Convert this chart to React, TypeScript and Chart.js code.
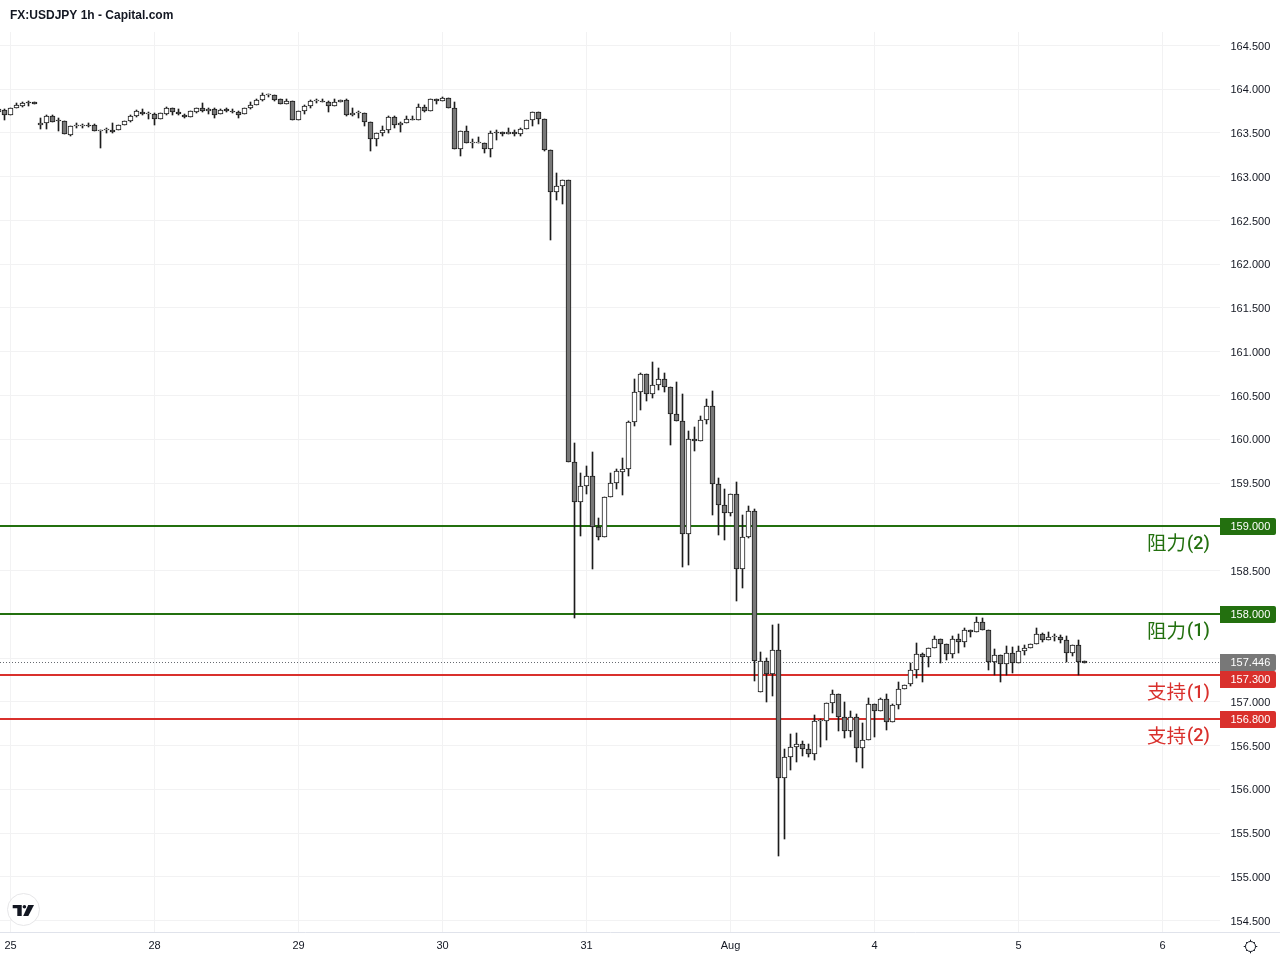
import React, { useEffect, useRef } from "react";
import { Chart, registerables } from "chart.js";

Chart.register(...registerables);

const title = "FX:USDJPY 1h - Capital.com";
const firstBar = -2;

const opens = [
163.745,163.76,163.71,163.78,163.81,163.85,163.85,
163.59,163.61,163.695,163.65,163.635,163.48,163.585,163.58,163.595,163.595,163.525,163.53,163.535,163.53,
163.59,163.64,163.69,163.745,163.715,163.715,163.655,163.72,163.78,163.735,163.71,163.68,163.745,163.78,163.75,163.77,
163.715,163.77,163.755,163.74,163.715,163.78,163.825,163.875,163.93,163.93,163.885,163.83,163.86,163.645,163.75,163.805,
163.86,163.87,163.85,163.805,163.85,163.875,163.70,163.73,163.725,163.625,163.43,163.495,163.53,163.68,163.59,163.61,
163.66,163.645,163.795,163.75,163.885,163.86,163.895,163.78,163.315,163.52,163.39,163.39,163.39,163.315,163.505,163.51,
163.485,163.51,163.485,163.545,163.645,163.735,163.655,163.30,162.82,162.89,162.96,
159.744,159.279,159.469,159.576,158.993,158.887,159.344,159.496,159.63,159.656,160.193,160.536,160.742,160.513,160.616,160.685,
160.601,160.292,160.205,158.913,159.999,159.984,160.216,160.376,159.485,159.245,159.161,159.37,158.513,158.887,159.176,
157.115,157.47,157.313,157.588,156.125,156.365,156.487,156.521,156.464,156.399,156.78,156.776,156.982,157.085,156.822,156.662,
156.822,156.468,156.559,156.97,156.89,157.028,156.765,156.959,157.142,157.199,157.359,
157.542,157.508,157.611,157.714,157.657,157.542,157.714,157.679,157.817,157.801,157.908,157.817,157.458,157.531,157.428,157.554,
157.439,157.577,157.611,157.657,157.771,157.702,157.737,157.737,157.702,157.554,157.645,157.462,
];

const highs = [
163.78,163.775,163.78,163.84,163.85,163.86,163.85,
163.67,163.71,163.71,163.67,163.635,163.585,163.61,163.60,163.61,163.60,163.535,163.555,163.615,163.59,
163.64,163.705,163.765,163.77,163.735,163.725,163.725,163.795,163.79,163.775,163.72,163.75,163.785,163.84,163.79,163.79,
163.77,163.785,163.77,163.755,163.785,163.85,163.89,163.955,163.945,163.935,163.885,163.885,163.86,163.75,163.82,163.875,
163.885,163.89,163.86,163.885,163.875,163.885,163.78,163.75,163.725,163.625,163.495,163.575,163.69,163.69,163.62,163.69,
163.69,163.83,163.815,163.885,163.89,163.91,163.895,163.85,163.52,163.575,163.43,163.455,163.39,163.52,163.53,163.51,
163.56,163.53,163.56,163.65,163.735,163.735,163.655,163.305,163.04,162.96,162.96,
159.953,159.611,159.69,159.85,159.096,159.344,159.611,159.656,159.782,160.212,160.689,160.753,160.742,160.879,160.811,160.753,
160.601,160.651,160.513,160.094,160.14,160.266,160.456,160.548,159.553,159.427,159.37,159.508,159.134,159.233,159.199,
157.565,157.496,157.877,157.889,156.46,156.631,156.639,156.548,156.513,156.845,156.803,156.982,157.134,157.085,157.0,156.894,
156.86,156.761,157.043,156.97,157.039,157.089,156.97,157.226,157.195,157.443,157.668,
157.554,157.611,157.752,157.714,157.657,157.752,157.775,157.84,157.817,157.965,157.954,157.817,157.6,157.531,157.638,157.622,
157.638,157.649,157.657,157.84,157.782,157.801,157.775,157.76,157.752,157.645,157.706,157.462,
];

const lows = [
163.74,163.65,163.71,163.78,163.80,163.81,163.83,
163.54,163.55,163.62,163.52,163.49,163.47,163.555,163.555,163.57,163.52,163.33,163.50,163.50,163.53,
163.59,163.63,163.68,163.705,163.66,163.595,163.655,163.70,163.705,163.70,163.67,163.68,163.725,163.74,163.72,163.675,
163.715,163.74,163.725,163.675,163.715,163.775,163.815,163.865,163.915,163.86,163.83,163.83,163.65,163.645,163.72,163.785,
163.84,163.85,163.745,163.805,163.85,163.69,163.69,163.67,163.575,163.29,163.355,163.46,163.505,163.56,163.515,163.61,
163.65,163.645,163.735,163.75,163.835,163.86,163.78,163.315,163.24,163.39,163.33,163.385,163.27,163.22,163.425,163.46,
163.485,163.47,163.47,163.545,163.575,163.605,163.29,162.28,162.73,162.69,159.745,
157.961,158.898,159.374,158.521,158.848,158.887,159.344,159.431,159.363,159.584,160.155,160.334,160.437,160.472,160.563,160.54,
159.934,160.205,158.544,158.563,159.87,159.984,160.178,159.134,158.906,158.848,159.123,158.151,158.304,158.875,157.241,
157.115,157.0,157.066,155.241,155.431,156.22,156.315,156.38,156.372,156.334,156.487,156.563,156.875,156.666,156.59,156.601,
156.315,156.246,156.559,156.601,156.89,156.677,156.765,156.921,157.142,157.184,157.275,
157.23,157.401,157.611,157.439,157.478,157.504,157.561,157.63,157.737,157.801,157.817,157.363,157.306,157.23,157.306,157.325,
157.439,157.535,157.611,157.657,157.687,157.702,157.695,157.668,157.458,157.52,157.306,157.446,
];

const closes = [
163.775,163.71,163.78,163.82,163.84,163.84,163.83,
163.61,163.695,163.62,163.635,163.49,163.575,163.585,163.58,163.58,163.52,163.525,163.53,163.515,163.59,
163.64,163.69,163.75,163.715,163.715,163.655,163.725,163.78,163.735,163.715,163.68,163.75,163.78,163.75,163.77,163.705,
163.765,163.75,163.745,163.705,163.78,163.825,163.875,163.93,163.93,163.88,163.83,163.86,163.65,163.75,163.805,163.86,
163.86,163.85,163.805,163.85,163.875,163.70,163.725,163.73,163.625,163.43,163.495,163.53,163.68,163.59,163.61,163.655,
163.65,163.795,163.75,163.885,163.86,163.895,163.78,163.315,163.52,163.39,163.39,163.39,163.315,163.495,163.495,163.485,
163.51,163.485,163.545,163.645,163.735,163.655,163.30,162.825,162.89,162.96,159.745,
159.279,159.469,159.576,158.993,158.887,159.344,159.496,159.633,159.656,160.193,160.536,160.742,160.513,160.616,160.685,160.601,
160.292,160.205,158.913,159.999,159.984,160.216,160.376,159.485,159.245,159.161,159.37,158.513,158.887,159.176,157.47,
157.47,157.313,157.588,156.125,156.365,156.487,156.521,156.464,156.399,156.776,156.78,156.982,157.085,156.822,156.662,156.822,
156.468,156.559,156.97,156.89,157.028,156.765,156.959,157.142,157.195,157.359,157.542,
157.508,157.611,157.714,157.657,157.542,157.714,157.679,157.817,157.801,157.908,157.817,157.458,157.531,157.428,157.554,157.439,
157.577,157.611,157.657,157.771,157.702,157.737,157.737,157.702,157.554,157.645,157.458,157.446,
];

const dayLabels = ["25", "28", "29", "30", "31", "Aug", "4", "5", "6"];
const barsPerDay = 24;

const resistanceLevels = [159, 158];
const resistanceLabels = ["阻力(2)", "阻力(1)"];
const supportLevels = [157.3, 156.8];
const supportLabels = ["支持(1)", "支持(2)"];
const lastPrice = 157.446;

const GREEN = "#23700f";
const RED = "#d9302c";
const BULL = "#ffffff";
const BEAR = "#787878";
const EDGE = "#1c1c1c";
const GRID = "#f2f2f3";
const INK = "#131722";
const FONT = '"Liberation Sans", Arial, sans-serif';

const xMin = -1.75;
const xMax = 201.583;

const overlay = {
  id: "overlay",
  afterDatasetsUpdate(chart: any) {
    chart.data.datasets.forEach((ds: any, i: number) => {
      const meta = chart.getDatasetMeta(i);
      if (meta.type === "bar") {
        meta.data.forEach((el: any) => {
          el.y = Math.round(el.y);
          el.base = Math.round(el.base);
        });
      } else {
        const half = ds.borderWidth === 1 ? 0.5 : 0;
        meta.data.forEach((el: any) => {
          el.y = Math.floor(el.y) + half;
        });
      }
    });
  },
  afterDraw(chart: any) {
    const { ctx, scales } = chart;
    const y = scales.y;
    const right = chart.chartArea.right;
    const levelY = (v: number) => Math.floor(y.getPixelForValue(v)) + 0.5;
    ctx.save();

    // axis rule under the price scale
    ctx.fillStyle = "#e0e3eb";
    ctx.fillRect(right + 1, chart.chartArea.bottom, chart.width - right - 1, 1);

    // title
    ctx.fillStyle = INK;
    ctx.font = `bold 12px ${FONT}`;
    ctx.textAlign = "left";
    ctx.textBaseline = "middle";
    ctx.fillText(title, 10, 15.5);

    // price tags
    const tag = (value: number, color: string, cy: number) => {
      ctx.fillStyle = color;
      ctx.beginPath();
      ctx.roundRect(right, cy - 8.5, 56, 17, [0, 2, 2, 0]);
      ctx.fill();
      ctx.fillStyle = "#ffffff";
      ctx.font = `11px ${FONT}`;
      ctx.textAlign = "left";
      ctx.fillText(value.toFixed(3), right + 10.5, cy + 0.5);
    };
    resistanceLevels.forEach((v) => tag(v, GREEN, levelY(v)));
    const lastY = levelY(lastPrice);
    tag(lastPrice, BEAR, lastY);
    supportLevels.forEach((v) => {
      const py = levelY(v);
      tag(v, RED, Math.abs(py - lastY) < 17 ? lastY + 17 : py);
    });

    // level captions
    const caption = (text: string, color: string, cy: number) => {
      const cut = text.indexOf("(");
      ctx.fillStyle = color;
      ctx.textAlign = "left";
      ctx.font = `19.5px "Noto Sans CJK SC", sans-serif`;
      ctx.fillText(text.slice(0, cut), right - 73, cy - 1);
      ctx.font = `500 18px Roboto, sans-serif`;
      ctx.fillText(text.slice(cut), right - 73 + 40, cy + 0.5);
    };
    resistanceLevels.forEach((v, i) =>
      caption(resistanceLabels[i], GREEN, y.getPixelForValue(v) + 17)
    );
    supportLevels.forEach((v, i) =>
      caption(supportLabels[i], RED, y.getPixelForValue(v) + 17)
    );

    // badge
    ctx.beginPath();
    ctx.arc(23.5, 909.5, 16, 0, Math.PI * 2);
    ctx.fillStyle = "#ffffff";
    ctx.fill();
    ctx.strokeStyle = "#e6e6e8";
    ctx.lineWidth = 1;
    ctx.stroke();
    ctx.fillStyle = "#131722";
    ctx.beginPath();
    ctx.moveTo(12.7, 905);
    ctx.lineTo(21.7, 905);
    ctx.lineTo(21.7, 916);
    ctx.lineTo(17.3, 916);
    ctx.lineTo(17.3, 908.3);
    ctx.lineTo(12.7, 908.3);
    ctx.closePath();
    ctx.fill();
    ctx.beginPath();
    ctx.arc(24.4, 906.7, 1.8, 0, Math.PI * 2);
    ctx.fill();
    ctx.beginPath();
    ctx.moveTo(28.2, 905);
    ctx.lineTo(34, 905);
    ctx.lineTo(28.3, 916);
    ctx.lineTo(23.2, 916);
    ctx.closePath();
    ctx.fill();

    // settings gear
    const gx = 1250.5;
    const gy = 946.5;
    ctx.strokeStyle = INK;
    ctx.lineWidth = 1;
    ctx.beginPath();
    ctx.arc(gx, gy, 5, 0, Math.PI * 2);
    ctx.stroke();
    for (let i = 0; i < 8; i++) {
      const a = (i * Math.PI) / 4;
      const outer = i % 2 === 0 ? 6.8 : 6.2;
      ctx.beginPath();
      ctx.moveTo(gx + Math.cos(a) * 5, gy + Math.sin(a) * 5);
      ctx.lineTo(gx + Math.cos(a) * outer, gy + Math.sin(a) * outer);
      ctx.stroke();
    }
    ctx.restore();
  },
};

export default function App() {
  const ref = useRef<HTMLCanvasElement>(null);
  useEffect(() => {
    const bars = opens.map((_, i) => i + firstBar);
    const levelLine = (value: number, color: string) => ({
      type: "line" as const,
      data: [
        { x: xMin, y: value },
        { x: xMax, y: value },
      ],
      borderColor: color,
      borderWidth: 2,
      pointRadius: 0,
      order: 3,
    });
    const chart = new Chart(ref.current!, {
      type: "bar",
      data: {
        datasets: [
          ...resistanceLevels.map((v) => levelLine(v, GREEN)),
          ...supportLevels.map((v) => levelLine(v, RED)),
          {
            ...levelLine(lastPrice, "#666a70"),
            borderWidth: 1,
            borderDash: [1, 2],
          },
          {
            type: "bar" as const,
            data: bars.map((x, i) => ({ x, y: [lows[i], highs[i]] })),
            backgroundColor: EDGE,
            barThickness: 1,
            grouped: false,
            order: 2,
          },
          {
            type: "bar" as const,
            data: bars.map((x, i) => ({ x, y: [opens[i], closes[i]] })),
            backgroundColor: bars.map((_, i) =>
              closes[i] >= opens[i] ? BULL : BEAR
            ),
            borderColor: EDGE,
            borderWidth: 1,
            borderSkipped: false,
            barThickness: 5,
            grouped: false,
            minBarLength: 1,
            order: 1,
          },
        ] as any,
      },
      options: {
        responsive: false,
        animation: false,
        devicePixelRatio: 1,
        layout: { padding: { top: 32, left: 0, right: 0, bottom: 0 } },
        plugins: { legend: { display: false }, tooltip: { enabled: false }, title: { display: false } },
        scales: {
          x: {
            type: "linear",
            offset: false,
            min: xMin,
            max: xMax,
            grid: { color: GRID, drawTicks: false, offset: false },
            border: { color: "#e0e3eb" },
            ticks: {
              stepSize: barsPerDay,
              includeBounds: false,
              autoSkip: false,
              maxRotation: 0,
              padding: 7.5,
              color: INK,
              font: { family: FONT, size: 11 },
              callback: (v: any) => dayLabels[Math.round(Number(v) / barsPerDay)] ?? "",
            },
            afterFit: (a: any) => {
              a.height = 28;
              a.paddingLeft = 0;
              a.paddingRight = 0;
            },
          },
          y: {
            position: "right",
            min: 154.369,
            max: 164.654,
            grid: { color: GRID, drawTicks: false },
            border: { display: false },
            ticks: {
              stepSize: 0.5,
              includeBounds: false,
              autoSkip: false,
              padding: 10.5,
              labelOffset: 1,
              color: INK,
              font: { family: FONT, size: 11 },
              callback: (v: any) => Number(v).toFixed(3),
            },
            afterFit: (a: any) => {
              a.width = 60;
            },
          },
        },
      } as any,
      plugins: [overlay],
    });
    return () => chart.destroy();
  }, []);
  return (
    <div style={{ position: "fixed", left: 0, top: 0, width: 1280, height: 960, background: "#fff" }}>
      <canvas ref={ref} width={1280} height={960} style={{ display: "block", width: 1280, height: 960 }} />
    </div>
  );
}
